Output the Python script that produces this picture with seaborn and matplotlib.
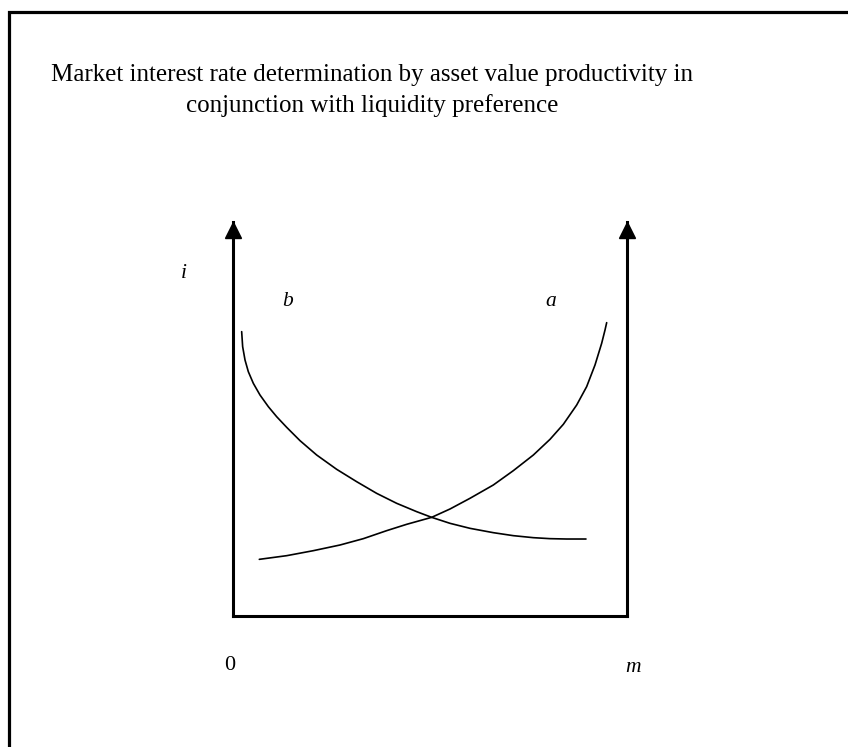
import numpy as np
import pandas as pd
import matplotlib
matplotlib.use("Agg")
import matplotlib.pyplot as plt
import seaborn as sns

# curve points (x: 0..m = 0..10, y: i = 0..10)
b_x = [0.220, 0.245, 0.305, 0.389, 0.516, 0.685, 0.897, 1.108, 1.362, 1.701,
       2.124, 2.631, 3.139, 3.646, 4.154, 4.662, 5.042, 5.508, 6.015, 6.607,
       7.115, 7.623, 8.046, 8.469, 8.959]
b_y = [7.217, 6.836, 6.497, 6.201, 5.905, 5.609, 5.313, 5.059, 4.789, 4.450,
       4.086, 3.723, 3.409, 3.113, 2.860, 2.648, 2.504, 2.352, 2.225, 2.115,
       2.039, 1.988, 1.963, 1.954, 1.954]

a_x = [0.668, 1.362, 2.039, 2.716, 3.308, 3.900, 4.408, 5.042, 5.508, 6.015,
       6.607, 7.115, 7.623, 8.046, 8.384, 8.723, 8.976, 9.188, 9.357, 9.442,
       9.484]
a_y = [1.438, 1.531, 1.658, 1.802, 1.963, 2.166, 2.327, 2.504, 2.716, 2.987,
       3.325, 3.689, 4.086, 4.484, 4.865, 5.355, 5.821, 6.371, 6.921, 7.259,
       7.445]

title_lines = ["Market interest rate determination by asset value productivity in",
               "conjunction with liquidity preference"]

sns.set_theme(style="white")
plt.rcParams["font.family"] = ["Liberation Serif", "DejaVu Serif"]

W, H = 848, 747
fig = plt.figure(figsize=(W / 100, H / 100), dpi=100)

# background axes in pixel coords for the frame and title
bg = fig.add_axes([0, 0, 1, 1])
bg.set_xlim(0, W)
bg.set_ylim(H, 0)
bg.axis("off")
bg.plot([9, 9, W], [H, 12, 12], color="black", lw=2.3, solid_joinstyle="miter")
bg.text(372, 75, title_lines[0], ha="center", va="center", fontsize=18,
        color="black")
bg.text(372, 106, title_lines[1], ha="center", va="center", fontsize=18,
        color="black")

# diagram axes: x 0..10 -> px 233..627, y 0..10 -> px 616..222
x0, x1, y0, y1 = 233, 627, 616, 222
ax = fig.add_axes([x0 / W, (H - y0) / H, (x1 - x0) / W, (y0 - y1) / H])
ax.patch.set_alpha(0)
ax.set_xlim(0, 10)
ax.set_ylim(0, 10)
ax.set_xticks([])
ax.set_yticks([])
for side in ["left", "right", "bottom"]:
    ax.spines[side].set_visible(True)
    ax.spines[side].set_color("black")
    ax.spines[side].set_linewidth(2.2)
ax.spines["top"].set_visible(False)

df = pd.concat([
    pd.DataFrame({"m": b_x, "i": b_y, "curve": "b"}),
    pd.DataFrame({"m": a_x, "i": a_y, "curve": "a"}),
])
sns.lineplot(data=df, x="m", y="i", units="curve", estimator=None, sort=False,
             color="black", linewidth=1.2, ax=ax)

# arrow heads on the two vertical axes
ax.plot([0, 10], [9.80, 9.80], linestyle="none", marker="^", markersize=11.5,
        color="black", clip_on=False)

ax.set_xlabel("")
ax.set_ylabel("")

lab = dict(fontsize=15.5, style="italic", ha="center", va="center", color="black")
bg.text(184, 273, "i", **lab)
bg.text(288, 302, "b", **lab)
bg.text(551, 302, "a", **lab)
bg.text(633, 667, "m", **lab)
bg.text(230, 665, "0", fontsize=16, ha="center", va="center", color="black")

fig.savefig("out.png", dpi=100)
